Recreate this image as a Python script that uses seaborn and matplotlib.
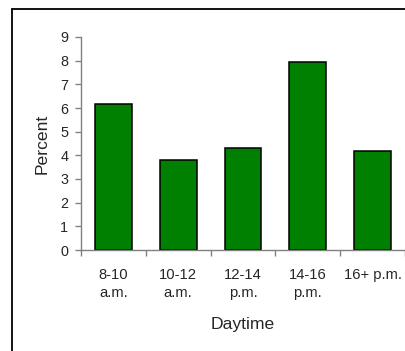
import matplotlib
matplotlib.use("Agg")
import matplotlib.pyplot as plt
from matplotlib.lines import Line2D
import seaborn as sns
import pandas as pd

# Share of activity per daytime slot
categories = ["8-10\na.m.", "10-12\na.m.", "12-14\np.m.", "14-16\np.m.", "16+ p.m."]
percent = [6.18, 3.79, 4.33, 7.94, 4.20]
y_ticks = [0, 1, 2, 3, 4, 5, 6, 7, 8, 9]

sns.set_style("white")
plt.rcParams["font.family"] = ["Liberation Sans", "DejaVu Sans"]

df = pd.DataFrame({"Daytime": categories, "Percent": percent})

W, H = 406, 351
fig = plt.figure(figsize=(W / 100, H / 100), dpi=100)
ax = fig.add_axes([81 / W, 1 - 250 / H, (405 - 81) / W, (250 - 37) / H])

sns.barplot(data=df, x="Daytime", y="Percent", ax=ax, color="#008000",
            saturation=1, width=0.57, edgecolor="black", linewidth=1.1)

ax.set_ylim(0, 9)
ax.set_xlim(-0.5, len(categories) - 0.5)
ax.set_yticks(y_ticks)
ax.set_yticklabels([str(t) for t in y_ticks], fontsize=10.4)

# category labels centred, ticks at the category boundaries
ax.set_xticks(range(len(categories)))
ax.set_xticklabels(categories, fontsize=10.6, linespacing=1.4)
ax.set_xticks([i - 0.5 for i in range(len(categories) + 1)], minor=True)
ax.tick_params(axis="x", which="major", length=0, pad=13)
ax.tick_params(axis="x", which="minor", length=4, width=1, color="#808080",
               direction="out", bottom=True)
ax.tick_params(axis="y", length=4, width=1, color="#808080", direction="out",
               left=True, pad=5)

ax.set_xlabel("Daytime", fontsize=12.6, labelpad=12)
ax.set_ylabel("Percent", fontsize=12.6, labelpad=8)

for side in ["top", "right"]:
    ax.spines[side].set_visible(False)
for side in ["left", "bottom"]:
    ax.spines[side].set_color("#808080")
    ax.spines[side].set_linewidth(1)

# outer chart frame (open towards the right and bottom edges)
fx = 12.5 / W
fy = 1 - 8.5 / H
fig.add_artist(Line2D([fx, fx], [0, fy], transform=fig.transFigure,
                      color="black", linewidth=1.3))
fig.add_artist(Line2D([fx, 1], [fy, fy], transform=fig.transFigure,
                      color="black", linewidth=1.3))

fig.savefig("out.png", dpi=100, facecolor="white")
